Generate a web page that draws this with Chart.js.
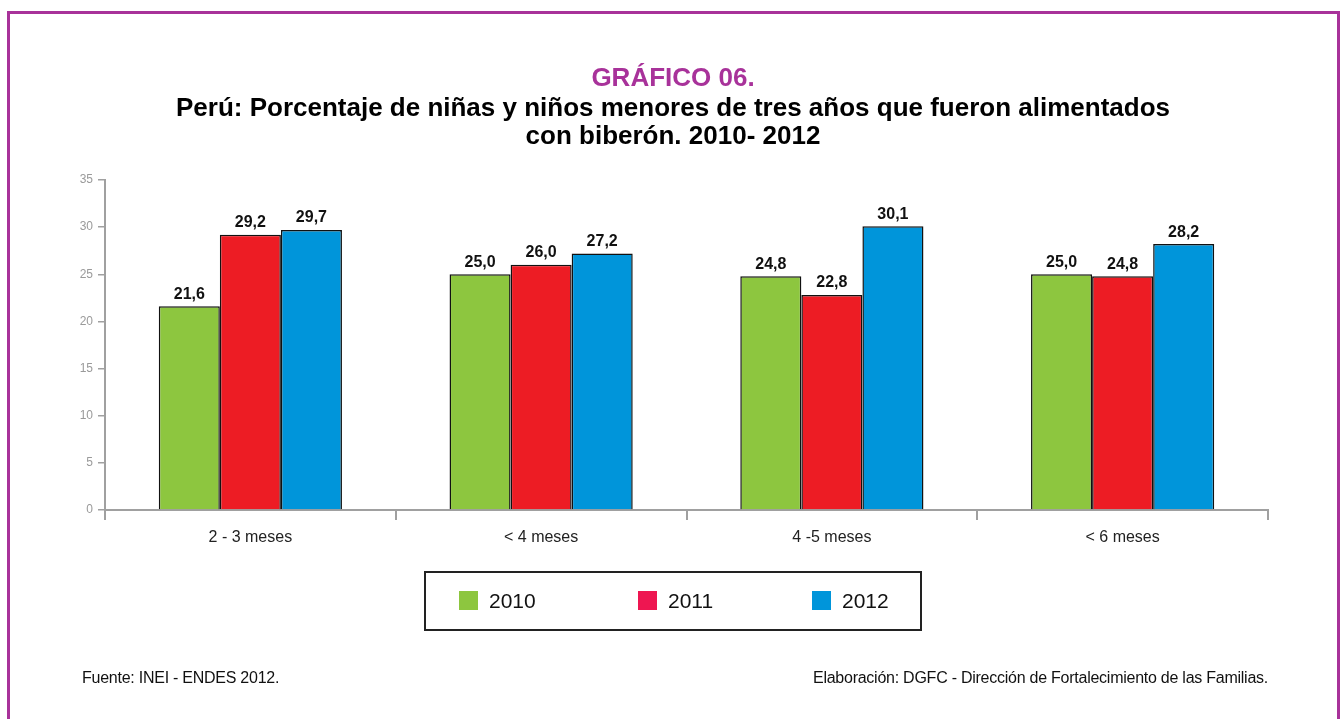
<!DOCTYPE html>
<html>
<head>
<meta charset="utf-8">
<script src="https://cdn.jsdelivr.net/npm/chart.js@4/dist/chart.umd.min.js"></script>
<style>
  body { margin: 0; background: #fff; font-family: "Liberation Sans", Arial, sans-serif; }
  .frame { position: absolute; left: 7px; top: 11px; width: 1327px; height: 740px; border: 3px solid #A8329A; }
  #c { position: absolute; left: 0; top: 0; }
  .title { position: absolute; left: 0; width: 1346px; text-align: center; font-weight: bold; font-size: 26px; line-height: 30px; }
  .legend { position: absolute; left: 424px; top: 571px; width: 494px; height: 56px; border: 2px solid #222; }
  .legend span.item { position: absolute; top: 16px; font-size: 21px; color: #111; }
  .legend span.sw { display: inline-block; width: 19px; height: 19px; vertical-align: -2px; margin-right: 11px; }
  .foot { position: absolute; top: 669px; font-size: 16px; color: #111; letter-spacing: -0.25px; }
</style>
</head>
<body>
<div class="frame"></div>
<canvas id="c" width="1341" height="719"></canvas>
<div class="title" style="top:62px;color:#A8329A;">GRÁFICO 06.</div>
<div class="title" style="top:92px;color:#000;">Perú: Porcentaje de niñas y niños menores de tres años que fueron alimentados</div>
<div class="title" style="top:120px;color:#000;">con biberón. 2010- 2012</div>
<div class="legend" id="legend"></div>
<div class="foot" style="left:82px;">Fuente: INEI - ENDES 2012.</div>
<div class="foot" style="right:73px;">Elaboración: DGFC - Dirección de Fortalecimiento de las Familias.</div>
<script>
const categories = ['2 - 3 meses', '< 4 meses', '4 -5 meses', '< 6 meses'];
const years = ['2010', '2011', '2012'];
const values2010 = [21.6, 25.0, 24.8, 25.0];
const values2011 = [29.2, 26.0, 22.8, 24.8];
const values2012 = [29.7, 27.2, 30.1, 28.2];
const yTicks = [0, 5, 10, 15, 20, 25, 30, 35];

const barColors = ['#8DC63F', '#ED1C24', '#0095DA'];
const legendColors = ['#8DC63F', '#EE1651', '#0095DA'];

// value labels above each bar, decimal comma
const valueLabels = {
  id: 'valueLabels',
  afterDatasetsDraw(chart) {
    const ctx = chart.ctx;
    ctx.save();
    ctx.font = 'bold 16px "Liberation Sans", Arial, sans-serif';
    ctx.fillStyle = '#111';
    ctx.textAlign = 'center';
    ctx.textBaseline = 'bottom';
    chart.data.datasets.forEach((ds, i) => {
      chart.getDatasetMeta(i).data.forEach((bar, j) => {
        ctx.fillText(ds.data[j].toFixed(1).replace('.', ','), bar.x, bar.y - 4);
      });
    });
    ctx.restore();
  }
};

const ctx = document.getElementById('c').getContext('2d');
const chart = new Chart(ctx, {
  type: 'bar',
  data: {
    labels: categories,
    datasets: [
      { label: years[0], data: values2010, backgroundColor: barColors[0] },
      { label: years[1], data: values2011, backgroundColor: barColors[1] },
      { label: years[2], data: values2012, backgroundColor: barColors[2] }
    ].map(ds => Object.assign(ds, {
      borderColor: '#111',
      borderWidth: 1.5,
      borderSkipped: 'bottom',
      categoryPercentage: 0.63,
      barPercentage: 1.0
    }))
  },
  options: {
    responsive: false,
    animation: false,
    layout: { padding: { top: 180, right: 73, left: 0, bottom: 0 } },
    plugins: { legend: { display: false }, tooltip: { enabled: false } },
    scales: {
      x: {
        grid: { offset: true, drawOnChartArea: false, tickLength: 10, color: '#A0A0A0', lineWidth: 2 },
        border: { color: '#A0A0A0', width: 2 },
        ticks: { color: '#222', font: { size: 16, family: '"Liberation Sans", Arial, sans-serif' }, padding: 8 },
        afterFit: s => { s.height = 209; }
      },
      y: {
        min: 0, max: 35,
        afterBuildTicks: s => { s.ticks = yTicks.map(v => ({ value: v })); },
        grid: { drawOnChartArea: false, tickLength: 7, color: '#A0A0A0', lineWidth: 1.5 },
        border: { color: '#A0A0A0', width: 2 },
        ticks: { color: '#9A9A9A', font: { size: 12, family: '"Liberation Sans", Arial, sans-serif' }, padding: 5 },
        afterFit: s => { s.width = 105; }
      }
    }
  },
  plugins: [valueLabels]
});

// legend box built from the datasets
const legendLeft = [33, 212, 386];
const lg = document.getElementById('legend');
chart.data.datasets.forEach((ds, i) => {
  const item = document.createElement('span');
  item.className = 'item';
  item.style.left = legendLeft[i] + 'px';
  item.innerHTML = '<span class="sw" style="background:' + legendColors[i] + '"></span>' + ds.label;
  lg.appendChild(item);
});
</script>
</body>
</html>
